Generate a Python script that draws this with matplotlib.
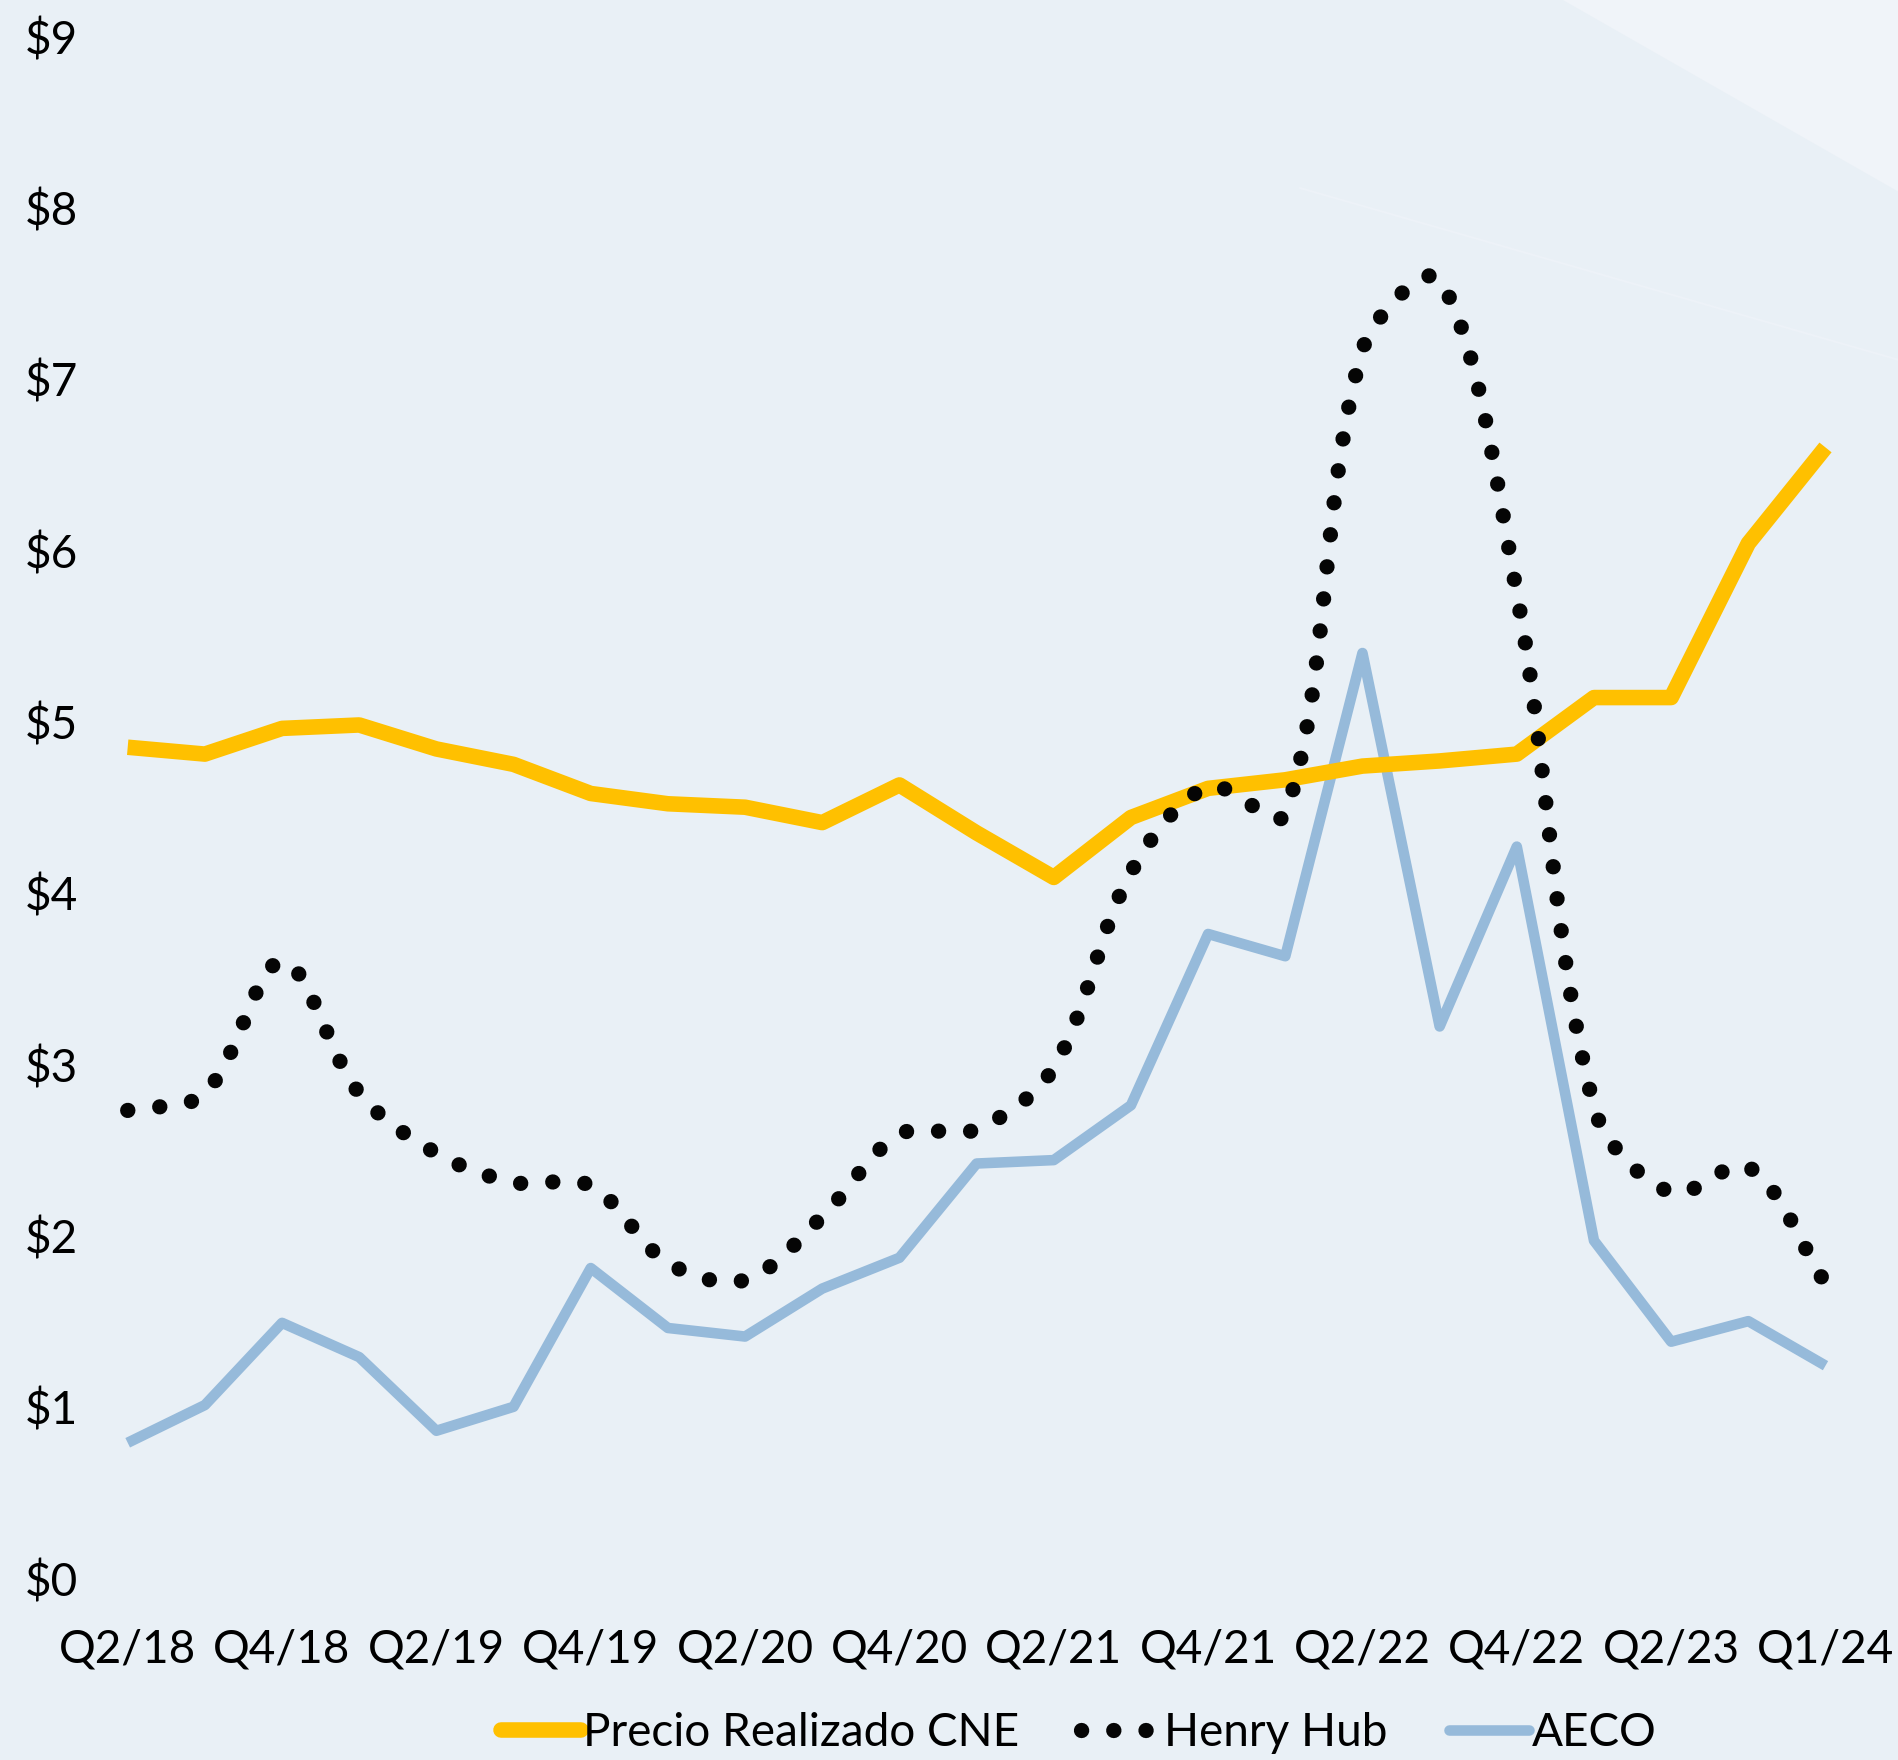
import numpy as np
import matplotlib
matplotlib.use("Agg")
import matplotlib.pyplot as plt
from matplotlib.patches import Polygon
from matplotlib.lines import Line2D

quarters = ["Q2/18", "Q3/18", "Q4/18", "Q1/19", "Q2/19", "Q3/19", "Q4/19", "Q1/20",
            "Q2/20", "Q3/20", "Q4/20", "Q1/21", "Q2/21", "Q3/21", "Q4/21", "Q1/22",
            "Q2/22", "Q3/22", "Q4/22", "Q1/23", "Q2/23", "Q3/23", "Q1/24"]
precio_cne = [4.85, 4.81, 4.96, 4.98, 4.84, 4.75, 4.58, 4.52, 4.50, 4.41, 4.63, 4.35,
              4.09, 4.44, 4.61, 4.66, 4.74, 4.77, 4.81, 5.14, 5.14, 6.04, 6.60]
henry_hub = [2.73, 2.83, 3.60, 2.83, 2.48, 2.31, 2.29, 1.84, 1.74, 2.11, 2.59, 2.62,
             2.98, 4.12, 4.62, 4.46, 7.17, 7.58, 5.75, 2.75, 2.25, 2.40, 1.72]
aeco = [0.79, 1.01, 1.49, 1.29, 0.86, 1.00, 1.81, 1.46, 1.41, 1.69, 1.87, 2.42,
        2.44, 2.76, 3.76, 3.63, 5.40, 3.22, 4.27, 1.97, 1.38, 1.50, 1.24]
series_names = ["Precio Realizado CNE", "Henry Hub", "AECO"]
y_ticks = list(range(10))

BG = "#E9F0F6"
YELLOW = "#FFC000"
BLUE = "#96BADA"
BLACK = "#050505"

plt.rcParams['font.family'] = ['Lato', 'DejaVu Sans']
FS = 33

W, H = 1899, 1760
fig = plt.figure(figsize=(W / 100, H / 100), dpi=100, facecolor=BG)

# decorative lighter wedge top-right
fig.patches.append(Polygon([(1563 / W, 1.0), (1.0, 1.0), (1.0, 1 - 192 / H)],
                           closed=True, transform=fig.transFigure,
                           facecolor="#F0F4F9", edgecolor="none", zorder=0))
fig.lines.append(Line2D([1300 / W, 1.0], [1 - 188 / H, 1 - 360 / H],
                        transform=fig.transFigure, color="#EDF2F8", lw=1.5, zorder=0))

left, right = 127.7 / W, 1825.5 / W
bottom, top = (H - 1578.1) / H, (H - 36.3) / H
ax = fig.add_axes([left, bottom, right - left, top - bottom])
ax.set_facecolor("none")
for s in ax.spines.values():
    s.set_visible(False)

x = np.arange(len(quarters))
ax.set_xlim(0, len(quarters) - 1)
ax.set_ylim(0, 9)


def smooth_curve(xs, ys, n=80):
    """Bezier smoothing with chord-length-scaled tangents, computed in display space."""
    sx = (right - left) * W / (len(xs) - 1)
    sy = (top - bottom) * H / 9.0
    P = np.column_stack([np.asarray(xs, float) * sx, np.asarray(ys, float) * sy])
    out = [P[0:1]]
    t = np.linspace(0, 1, n)[1:, None]
    m = len(P)
    for i in range(m - 1):
        p0 = P[i - 1] if i > 0 else P[i]
        p1, p2 = P[i], P[i + 1]
        p3 = P[i + 2] if i + 2 < m else P[i + 1]
        d01 = np.linalg.norm(p1 - p0)
        d12 = np.linalg.norm(p2 - p1)
        d23 = np.linalg.norm(p3 - p2)
        c1 = p1 + (p2 - p0) * (d12 / (d01 + d12)) / 3.0
        c2 = p2 - (p3 - p1) * (d12 / (d12 + d23)) / 3.0
        seg = ((1 - t) ** 3) * p1 + 3 * ((1 - t) ** 2) * t * c1 + \
            3 * (1 - t) * t ** 2 * c2 + t ** 3 * p2
        out.append(seg)
    out = np.vstack(out)
    return out[:, 0] / sx, out[:, 1] / sy


ax.plot(x, precio_cne, color=YELLOW, lw=11.2, solid_capstyle="butt",
        solid_joinstyle="round", clip_on=False, zorder=3, label=series_names[0])
hx, hy = smooth_curve(x, henry_hub)
ax.plot(hx, hy, color=BLACK, lw=11.0, linestyle=(0, (0.01, 2.1)),
        dash_capstyle="round", clip_on=False, zorder=4, label=series_names[1])
ax.plot(x, aeco, color=BLUE, lw=7.6, solid_capstyle="butt",
        solid_joinstyle="round", clip_on=False, zorder=2, label=series_names[2])

ax.set_xticks(x[::2])
ax.set_xticklabels(quarters[::2], fontsize=FS)
ax.set_yticks(y_ticks)
ax.set_yticklabels([f"${v}" for v in y_ticks], fontsize=FS, ha="left")
ax.tick_params(axis="y", length=0, pad=74)
ax.tick_params(axis="x", length=0, pad=36)

handles = [
    Line2D([], [], color=YELLOW, lw=11.2, solid_capstyle="round"),
    Line2D([], [], color=BLACK, lw=11.0, linestyle=(0, (0.01, 2.1)), dash_capstyle="round"),
    Line2D([], [], color=BLUE, lw=7.6, solid_capstyle="round"),
]
fig.legend(handles, series_names, loc="center", bbox_to_anchor=(0.568, 1 - 1733 / H),
           ncol=3, frameon=False, fontsize=FS, handlelength=1.75, handletextpad=0.05,
           columnspacing=1.35, borderpad=0, borderaxespad=0)

fig.savefig("out.png", dpi=100, facecolor=BG)
